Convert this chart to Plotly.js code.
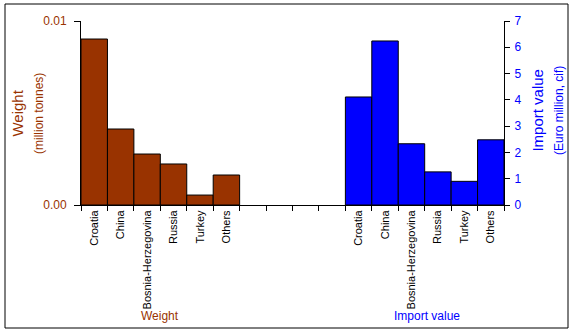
<!DOCTYPE html>
<html>
<head>
<meta charset="utf-8">
<script src="https://cdn.plot.ly/plotly-3.0.1.min.js"></script>
<style>
html,body{margin:0;padding:0;background:#fff;}
#chart{width:577px;height:332px;}
</style>
</head>
<body>
<div id="chart"></div>
<script>
// Data
var countries = ["Croatia", "China", "Bosnia-Herzegovina", "Russia", "Turkey", "Others"];
var weightValues = [0.00902, 0.00413, 0.00277, 0.00223, 0.00054, 0.00163]; // million tonnes
var importValues = [4.11, 6.24, 2.33, 1.26, 0.90, 2.48]; // Euro million, cif
var gapSlots = 4;

// Build unique category slots: weight group, empty gap, import group
var weightCats = countries.map(function(c){ return c; });
var gapCats = [];
for (var i = 0; i < gapSlots; i++) gapCats.push(" ".repeat(i + 1));
var importCats = countries.map(function(c){ return c + "\u200B"; });
var allCats = weightCats.concat(gapCats).concat(importCats);

var brown = "#993300";
var blue = "#0000FF";
var font = "Liberation Sans, Arial, sans-serif";

var traces = [
  {
    type: "bar", x: weightCats, y: weightValues, yaxis: "y",
    marker: {color: brown, line: {color: "#000", width: 1}},
    width: 1, showlegend: false, hoverinfo: "none"
  },
  {
    type: "bar", x: importCats, y: importValues, yaxis: "y2",
    marker: {color: blue, line: {color: "#000", width: 1}},
    width: 1, showlegend: false, hoverinfo: "none"
  }
];

function px(x){ return (x - 81) / 423; }
function py(y){ return (205 - y) / 184; }

var layout = {
  width: 577, height: 332,
  margin: {l: 81, r: 73, t: 21, b: 127},
  paper_bgcolor: "#fff", plot_bgcolor: "#fff",
  font: {family: font, size: 11, color: "#000"},
  bargap: 0, barmode: "overlay",
  xaxis: {
    type: "category", categoryorder: "array", categoryarray: allCats,
    range: [-0.5, allCats.length - 0.5],
    tickson: "boundaries", ticks: "outside", ticklen: 5, tickcolor: "#000",
    tickangle: -90, tickfont: {size: 11, color: "#000", family: font},
    showline: true, linecolor: "#000", linewidth: 1, showgrid: false, zeroline: false,
    fixedrange: true
  },
  yaxis: {
    range: [0, 0.01], tickvals: [0, 0.01], ticktext: ["0.00", "0.01"],
    ticks: "outside", ticklen: 6, tickcolor: "#000", ticklabelstandoff: 5,
    tickfont: {size: 12, color: brown, family: font},
    showline: true, linecolor: "#000", linewidth: 1,
    showgrid: true, gridcolor: "#808080", gridwidth: 1, zeroline: false,
    fixedrange: true
  },
  yaxis2: {
    overlaying: "y", side: "right",
    range: [0, 7], dtick: 1, tick0: 0,
    ticks: "outside", ticklen: 5, tickcolor: "#000", ticklabelstandoff: 2,
    tickfont: {size: 12, color: blue, family: font},
    showline: true, linecolor: "#000", linewidth: 1,
    showgrid: false, zeroline: false,
    fixedrange: true
  },
  annotations: [
    {xref: "paper", yref: "paper", x: px(27), y: py(114), text: "Weight<br><span style='font-size:12px'>(million tonnes)</span>", textangle: -90, showarrow: false, font: {size: 15, color: brown, family: font}, xanchor: "center", yanchor: "middle"},
    {xref: "paper", yref: "paper", x: px(548), y: py(111), text: "Import value<br><span style='font-size:12px'>(Euro million, cif)</span>", textangle: -90, showarrow: false, font: {size: 15, color: blue, family: font}, xanchor: "center", yanchor: "middle"},
    {xref: "paper", yref: "paper", x: px(160), y: py(316), text: "Weight", showarrow: false, font: {size: 12, color: brown, family: font}, xanchor: "center", yanchor: "middle"},
    {xref: "paper", yref: "paper", x: px(427), y: py(316), text: "Import value", showarrow: false, font: {size: 12, color: blue, family: font}, xanchor: "center", yanchor: "middle"}
  ],
  shapes: [
    {type: "rect", xref: "paper", yref: "paper", x0: px(5), x1: px(568), y0: py(328), y1: py(4), line: {color: "#000", width: 1}, fillcolor: "rgba(0,0,0,0)", layer: "above"}
  ]
};

Plotly.newPlot("chart", traces, layout, {staticPlot: true, displayModeBar: false});
</script>
</body>
</html>
